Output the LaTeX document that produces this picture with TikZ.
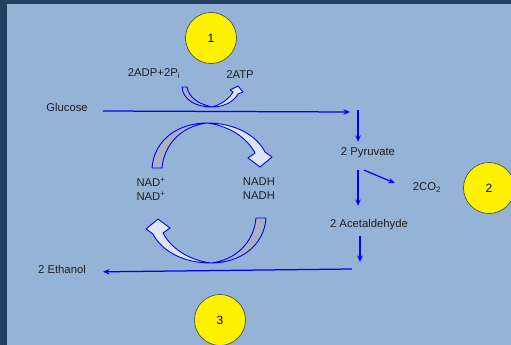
\documentclass[tikz,border=0pt]{standalone}
\usepackage{fontspec}
\setmainfont{Liberation Sans}
\usetikzlibrary{arrows.meta, calc}
\definecolor{bgblue}{HTML}{95B3D7}
\definecolor{frameblue}{HTML}{243F60}
\definecolor{bandlight}{HTML}{DCE6F4}
\definecolor{bandgrey}{HTML}{A8B2C2}
\definecolor{txt}{HTML}{1F1F1F}

\begin{document}
\begin{tikzpicture}[
    x=1pt, y=-1pt,
    lbl/.style={font=\fontsize{11.3}{14}\selectfont, text=txt, inner sep=1pt, text height=7.8pt, text depth=0pt},
    marker/.style={circle, draw=black!75, line width=0.6pt, fill=yellow, minimum size=51pt, inner sep=0pt, font=\fontsize{12}{14}\selectfont},
    flow/.style={-{Stealth[length=6.5pt, width=5.5pt]}, draw=blue, line width=1.25pt},
    band/.style={draw=blue, line width=0.9pt, line join=round}
]
    \useasboundingbox (0,0) rectangle (511,345);
    \fill[frameblue] (0,0) rectangle (511,345);
    \fill[bgblue] (7,4.5) rectangle (511,345);

    % step markers
    \node[marker] (m1) at (211,38) {1};
    \node[marker] (m2) at (489,188) {2};
    \node[marker] (m3) at (220,320) {3};

    % metabolites
    \node[lbl] (glucose) at (67,108) {Glucose};
    \node[lbl] (adp) at (154,73) {2ADP+2P\textsubscript{i}};
    \node[lbl] (atp) at (240,75) {2ATP};
    \node[lbl] (pyruvate) at (368,152) {2 Pyruvate};
    \node[lbl] (co2) at (427,187) {2CO\textsubscript{2}};
    \node[lbl] (acetald) at (369,224) {2 Acetaldehyde};
    \node[lbl] (ethanol) at (62,270) {2 Ethanol};
    \node[lbl, align=center, text height=, text depth=] (nadp) at (151,189) {NAD\textsuperscript{+}\\NAD\textsuperscript{+}};
    \node[lbl, align=center, text height=, text depth=] (nadh) at (259,189) {NADH\\NADH};

    \coordinate (gend) at (350,112);
    \coordinate (split) at (358,110);
    \coordinate (acbot) at (360,262);
    \coordinate (estart) at (352,269);

    \draw[flow] (glucose.east) ++(14,3) -- (gend);
    \draw[flow, shorten >=5pt] (split) -- (split |- pyruvate.north);
    \draw[flow, shorten <=13pt, shorten >=13pt] (pyruvate.south -| split) -- (acetald.north -| split);
    \draw[flow] ($(pyruvate.south)+(-4,13)$) -- ($(co2.west)+(-17,-4)$);
    \draw[flow, shorten <=7pt] (acetald.south -| acbot) -- (acbot);
    \draw[flow, shorten >=16pt] (estart) -- (ethanol.east |- 0,272);

    % ATP coupling arrow
    \filldraw[band, fill=bandgrey] (182,87) .. controls (183,100) and (196,107) .. (212,107)
        .. controls (199,104) and (189,98) .. (187,87) -- cycle;
    \filldraw[band, fill=bandlight] (212,107) .. controls (225,107) and (234,101) .. (238,94)
        -- (243,92) -- (238,86) -- (230,90) -- (233,92)
        .. controls (229,99) and (222,104) .. (212,107) -- cycle;

    % NAD cycle
    \foreach \turn in {0,180} {
        \begin{scope}[rotate around={\turn:(209,193)}]
            \filldraw[band, fill=bandgrey] (152,168) .. controls (154,140) and (178,123) .. (207,123)
                .. controls (182,126) and (164,144) .. (162,168) -- cycle;
            \filldraw[band, fill=bandlight] (207,123) .. controls (236,123) and (257,136) .. (265,152)
                -- (272,157) -- (260,167) -- (248,158) -- (255,153)
                .. controls (247,138) and (230,126) .. (207,123) -- cycle;
        \end{scope}
    }
\end{tikzpicture}
\end{document}
